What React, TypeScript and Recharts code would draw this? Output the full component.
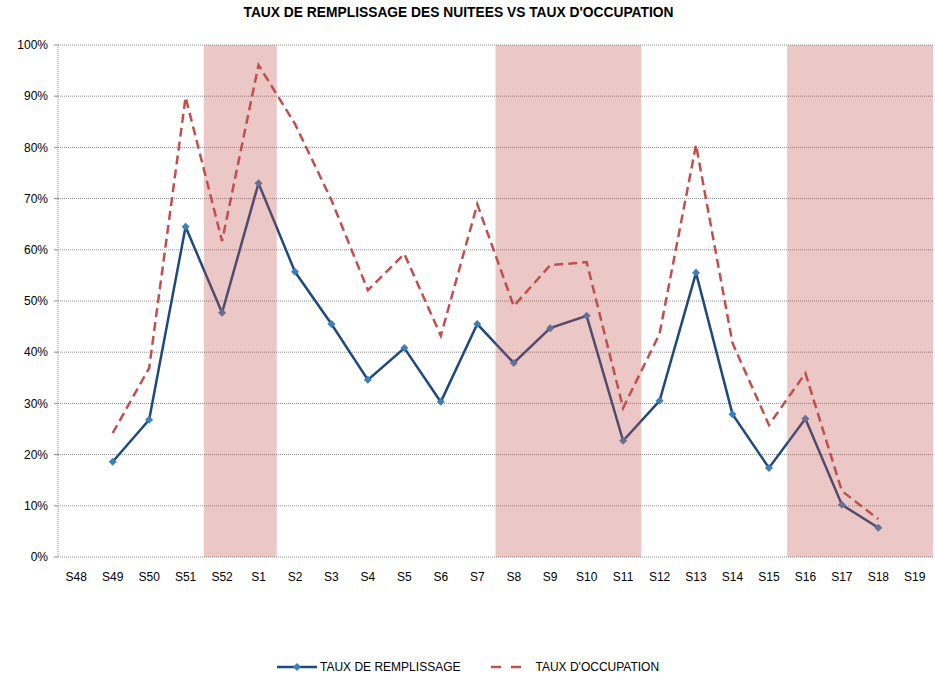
import { LineChart, Line, XAxis, YAxis, CartesianGrid, ReferenceArea } from "recharts";

const weeks = [
  "S48", "S49", "S50", "S51", "S52", "S1", "S2", "S3", "S4", "S5", "S6", "S7",
  "S8", "S9", "S10", "S11", "S12", "S13", "S14", "S15", "S16", "S17", "S18", "S19",
];

// % values
const remplissage = [
  null, 18.6, 26.8, 64.5, 47.7, 73.0, 55.7, 45.5, 34.6, 40.8, 30.3, 45.5,
  37.9, 44.7, 47.1, 22.7, 30.5, 55.5, 27.9, 17.4, 27.0, 10.2, 5.7, null,
];
const occupation = [
  null, 24.2, 36.9, 89.8, 61.7, 96.1, 84.6, 69.7, 52.1, 59.2, 43.2, 68.9,
  49.0, 57.0, 57.6, 29.1, 43.6, 80.5, 41.8, 25.8, 35.9, 12.9, 7.4, null,
];

const shaded = [
  ["S52", "S1"],
  ["S8", "S11"],
  ["S16", "S19"],
];

const yTicks = [0, 10, 20, 30, 40, 50, 60, 70, 80, 90, 100];

const seriesNames = { remplissage: "TAUX DE REMPLISSAGE", occupation: "TAUX D'OCCUPATION" };
const title = "TAUX DE REMPLISSAGE DES NUITEES VS TAUX D'OCCUPATION";

const BLUE = "#1F497D";
const MARKER = "#3F7FB5";
const RED = "#C0504D";
const GREY = "#8c8c8c";

const data = weeks.map((w, i) => ({
  x: i + 0.5,
  week: w,
  remplissage: remplissage[i],
  occupation: occupation[i],
}));

const boundaryTicks = weeks.map((_, i) => i).concat(weeks.length);
const centerTicks = weeks.map((_, i) => i + 0.5);

const Diamond = (props: any) => {
  const { cx, cy, value } = props;
  if (value == null || cx == null || cy == null) return null;
  const r = 4;
  return (
    <path
      key={`d-${cx}`}
      d={`M${cx},${cy - r}L${cx + r},${cy}L${cx},${cy + r}L${cx - r},${cy}Z`}
      fill={MARKER}
    />
  );
};

export default function App() {
  return (
    <div
      style={{
        position: "absolute",
        left: 0,
        top: 0,
        width: 935,
        height: 676,
        background: "#fff",
        fontFamily: "'Liberation Sans', Arial, sans-serif",
      }}
    >
      <div
        style={{
          position: "absolute",
          top: 5,
          left: 0,
          width: 917,
          textAlign: "center",
          fontSize: 13.8,
          fontWeight: "bold",
          color: "#000",
        }}
      >
        {title}
      </div>

      <LineChart
        width={935}
        height={676}
        data={data}
        margin={{ top: 45, right: 2, left: 8, bottom: 89 }}
        style={{ fontSize: 12 }}
      >
        <CartesianGrid vertical={false} stroke={GREY} strokeDasharray="1 1" xAxisId="lab" />
        <XAxis
          xAxisId="b"
          type="number"
          dataKey="x"
          domain={[0, weeks.length]}
          ticks={boundaryTicks}
          interval={0}
          tick={false}
          tickSize={5}
          height={0}
          axisLine={{ stroke: GREY }}
          tickLine={{ stroke: GREY }}
        />
        <XAxis
          xAxisId="lab"
          type="number"
          dataKey="x"
          domain={[0, weeks.length]}
          ticks={centerTicks}
          interval={0}
          tickFormatter={(v: number) => weeks[Math.floor(v)]}
          tick={{ fill: "#000", fontSize: 12 }}
          tickSize={6}
          tickMargin={9}
          height={30}
          axisLine={false}
          tickLine={false}
        />
        <YAxis
          domain={[0, 100]}
          ticks={yTicks}
          interval={0}
          width={50}
          tickFormatter={(v: number) => `${v}%`}
          tick={{ fill: "#000", fontSize: 12 }}
          tickSize={4}
          tickMargin={6}
          axisLine={{ stroke: GREY, strokeDasharray: "1 1" }}
          tickLine={{ stroke: GREY }}
        />
        <Line
          xAxisId="lab"
          type="linear"
          dataKey="occupation"
          name={seriesNames.occupation}
          stroke={RED}
          strokeWidth={2.5}
          strokeDasharray="9 5"
          dot={false}
          isAnimationActive={false}
        />
        <Line
          xAxisId="lab"
          type="linear"
          dataKey="remplissage"
          name={seriesNames.remplissage}
          stroke={BLUE}
          strokeWidth={2.5}
          dot={<Diamond />}
          activeDot={false}
          isAnimationActive={false}
        />
        {shaded.map(([a, b]) => (
          <ReferenceArea
            key={a}
            xAxisId="lab"
            x1={weeks.indexOf(a)}
            x2={weeks.indexOf(b) + 1}
            y1={0}
            y2={100}
            fill={RED}
            fillOpacity={0.32}
            stroke="none"
            zIndex={1000}
          />
        ))}
      </LineChart>

      <div
        style={{
          position: "absolute",
          top: 659,
          left: 277,
          display: "flex",
          alignItems: "center",
          fontSize: 12,
          color: "#000",
          lineHeight: "16px",
        }}
      >
        <svg width={42} height={16} style={{ marginRight: 1 }}>
          <line x1={0} y1={8} x2={40} y2={8} stroke={BLUE} strokeWidth={2.5} />
          <path d="M20,4L24,8L20,12L16,8Z" fill={MARKER} />
        </svg>
        <span>{seriesNames.remplissage}</span>
        <svg width={44} height={16} style={{ marginLeft: 31, marginRight: 0 }}>
          <line x1={0} y1={8} x2={30} y2={8} stroke={RED} strokeWidth={2.5} strokeDasharray="10 10" />
        </svg>
        <span>{seriesNames.occupation}</span>
      </div>
    </div>
  );
}
